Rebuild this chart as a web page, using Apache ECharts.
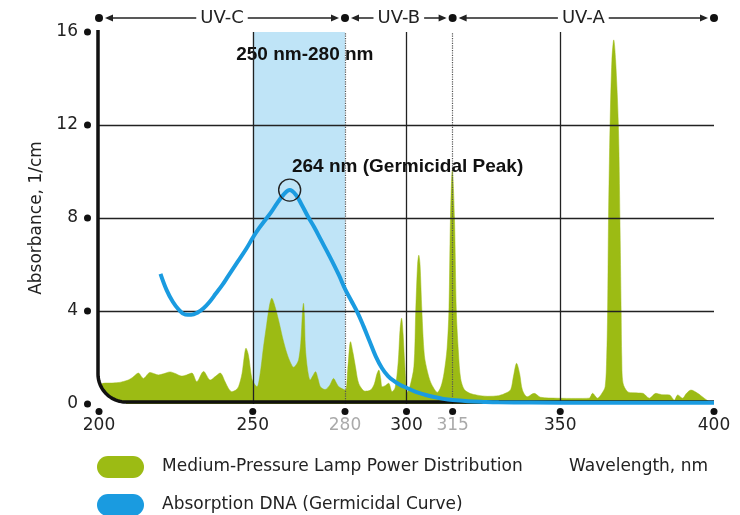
<!DOCTYPE html>
<html><head><meta charset="utf-8">
<script src="https://cdn.jsdelivr.net/npm/echarts@6/dist/echarts.min.js"></script>
<style>html,body{margin:0;padding:0;background:#fff}#c{width:740px;height:515px}</style>
</head><body><div id="c"></div>
<script>
// ---- data ----
const lampNm = [200.5,202,204,206.3,208,209.5,211,212.8,214.4,216.6,218,219.3,221,223.1,225,226.9,228.5,230.2,231.8,234,236.2,238,239.4,241,242.2,243.2,244.5,245.4,246.5,247.2,247.8,248.6,249.7,250.6,251.4,252.3,253.5,254.5,255.4,256.2,257,258.4,259.8,261.1,262.2,263.3,264.2,264.9,265.6,266.2,266.5,266.8,267.1,267.8,268.7,269.5,270.4,271.2,272,273.5,275,276.3,277.2,278,280.1,280.9,281.8,282.6,283.4,284.2,285,286.5,288.3,289.5,290.4,291,291.6,292.1,293.2,294.2,295.3,296.3,297.3,297.9,298.4,298.9,299.4,300.2,301,302.4,303.0,303.6,304,304.4,305.0,305.8,306.8,307.8,309,310,311.2,312.2,313.2,313.8,314.3,314.9,315.6,316.2,316.9,317.6,318.8,320.8,323,326.3,330,332.5,333.9,334.8,335.8,336.8,337.7,339.3,341.5,343.6,349,355,359.4,360.5,362.1,363.5,364.6,365.1,365.4,365.7,366.2,366.8,367.4,368.0,368.9,369.4,369.8,370.0,370.4,371.9,374,376.8,379,381.1,383,385.5,387.1,388.2,389.8,391,392.5,394.7,396.8,398.5,399.8];
const lampPower = [0.85,0.9,0.9,0.92,0.97,1.03,1.15,1.33,1.1,1.36,1.3,1.25,1.3,1.38,1.3,1.2,1.25,1.33,0.96,1.4,1.03,1.2,1.33,0.96,0.65,0.53,0.6,0.75,1.3,2.0,2.4,2.1,1.1,0.85,0.74,1.2,2.46,3.4,4.2,4.55,4.3,3.6,2.8,2.18,1.8,1.58,1.7,1.89,2.6,4.0,4.33,3.8,2.46,1.5,1.03,1.2,1.39,1.1,0.74,0.62,0.8,1.1,0.9,0.74,0.6,1.5,2.68,2.2,1.6,1.0,0.74,0.55,0.6,0.85,1.3,1.46,1.1,0.74,0.8,0.89,0.53,0.7,1.8,3.2,3.69,3.0,1.8,0.5,0.7,1.6,4.0,6.0,6.4,6.0,4.0,2.1,1.4,0.95,0.65,0.5,0.75,1.32,2.4,4.04,8.0,10.06,8.0,4.0,2.2,1.1,0.62,0.45,0.38,0.33,0.36,0.48,0.62,1.2,1.75,1.3,0.6,0.31,0.46,0.29,0.25,0.24,0.25,0.46,0.25,0.45,0.74,2.0,4.0,8.0,12.0,14.8,15.66,14.8,12.0,8.0,4.0,2.0,0.9,0.53,0.48,0.46,0.25,0.46,0.4,0.39,0.17,0.39,0.25,0.45,0.6,0.46,0.25,0.1,0.05];
const dnaNm = [220,222,224,226,228,230,232,234,236,238,240,242,245,248,250,252,254,256,258,260,262,264,266,268,270,272,275,278,280,282,284,286,288,290,292,294,296,298,300,303,306,309,312,315,320,325,330,340,360,380,400];
const dnaAbs = [5.6,4.9,4.4,4.05,3.85,3.84,3.93,4.12,4.4,4.75,5.1,5.5,6.1,6.7,7.15,7.55,7.9,8.25,8.65,9.0,9.2,9.0,8.55,8.05,7.6,7.1,6.35,5.55,4.95,4.45,3.95,3.35,2.7,2.05,1.55,1.2,0.98,0.82,0.7,0.52,0.4,0.3,0.22,0.17,0.12,0.09,0.07,0.06,0.05,0.05,0.05];
const xTickLabels = [200,250,280,300,315,350,400];
const greyTickLabels = [280,315];
const solidGuides = [250,300,350];
const dottedGuides = [280,315];
const yGuides = [4,8,12];
const bandNames = ['UV-C','UV-B','UV-A'];
const bandEdges = [200,280,315,400];
const germicidalRange = [250,280];
const germicidalRangeLabel = '250 nm-280 nm';
const germicidalPeak = [262, 9.2];
const germicidalPeakLabel = '264 nm (Germicidal Peak)';
const seriesNames = ['Medium-Pressure Lamp Power Distribution','Absorption DNA (Germicidal Curve)'];
const xAxisTitle = 'Wavelength, nm';
const yAxisTitle = 'Absorbance, 1/cm';

// ---- styles ----
const GREEN = '#9cbb14', BLUE = '#1a9be0', BAND = '#bfe4f7';
const REG = "'DejaVu Sans', sans-serif";
const BOLD = "'Liberation Sans', Arial, sans-serif";
const pill = 'path://M11,0 L36,0 A11,11 0 0 1 36,22 L11,22 A11,11 0 0 1 11,0 Z';

const lampData = lampNm.map((x, i) => [x, lampPower[i]]);
const dnaData = dnaNm.map((x, i) => [x, dnaAbs[i]]);

const guideLines = []
  .concat(solidGuides.map(v => ({xAxis: v, lineStyle: {type: 'solid', color: '#222', width: 1.3}})))
  .concat(dottedGuides.map(v => ({xAxis: v, lineStyle: {type: 'dotted', color: '#555', width: 1.2}})))
  .concat(yGuides.map(v => ({yAxis: v, lineStyle: {type: 'solid', color: '#222', width: 1.3}})));

const chart = echarts.init(document.getElementById('c'), null, {renderer: 'canvas'});
chart.setOption({
  animation: false,
  backgroundColor: '#fff',
  grid: {left: 99, right: 26, top: 32, bottom: 111},
  title: {text: xAxisTitle, right: 32, top: 458, padding: 0,
    textStyle: {fontFamily: REG, fontSize: 17, fontWeight: 'normal', color: '#222'}},
  legend: {
    orient: 'vertical', left: 97, top: 456, height: 80, padding: 0,
    itemWidth: 47, itemHeight: 22, itemGap: 16,
    selectedMode: false,
    textStyle: {fontFamily: REG, fontSize: 17, color: '#222', padding: [0, 0, 0, 13]},
    data: [
      {name: seriesNames[0], icon: pill, itemStyle: {color: GREEN, borderWidth: 0}},
      {name: seriesNames[1], icon: pill, itemStyle: {color: BLUE, borderWidth: 0}}
    ]
  },
  xAxis: {
    type: 'value', min: 200, max: 400, interval: 5,
    axisLine: {show: false}, axisTick: {show: false}, splitLine: {show: false},
    axisLabel: {
      margin: 4,
      formatter: v => xTickLabels.indexOf(v) < 0 ? '' :
        '{d|}\n{' + (greyTickLabels.indexOf(v) < 0 ? 'v' : 'g') + '|' + v + '}',
      rich: {
        d: {width: 7, height: 7, backgroundColor: '#111', borderRadius: 3.5},
        v: {fontFamily: REG, fontSize: 17, color: '#222', lineHeight: 20, padding: [2, 0, 0, 0]},
        g: {fontFamily: REG, fontSize: 17, color: '#aaa', lineHeight: 20, padding: [2, 0, 0, 0]}
      }
    }
  },
  yAxis: {
    type: 'value', min: 0, max: 16, interval: 4,
    name: yAxisTitle, nameLocation: 'middle', nameGap: 46,
    nameTextStyle: {fontFamily: REG, fontSize: 17, color: '#222'},
    axisLine: {show: false}, axisTick: {show: false}, splitLine: {show: false},
    axisLabel: {
      margin: 8,
      formatter: v => '{v|' + v + '}{s|}{d|}',
      rich: {
        v: {fontFamily: REG, fontSize: 17, color: '#222'},
        s: {width: 6},
        d: {width: 7, height: 7, backgroundColor: '#111', borderRadius: 3.5}
      }
    }
  },
  series: [
    {
      name: seriesNames[0], type: 'line', z: 2, data: lampData,
      smooth: 0.3, showSymbol: false, silent: true,
      itemStyle: {color: GREEN},
      lineStyle: {color: GREEN, width: 0.5},
      areaStyle: {color: GREEN, opacity: 1},
      markArea: {
        z: 1, silent: true,
        itemStyle: {color: BAND},
        label: {show: true, position: 'insideTop', distance: 13, offset: [6, 0],
          fontFamily: BOLD, fontWeight: 'bold', fontSize: 19, color: '#111'},
        data: [[{name: germicidalRangeLabel, xAxis: germicidalRange[0]}, {xAxis: germicidalRange[1]}]]
      },
      markLine: {
        z: 3, silent: true, symbol: 'none', label: {show: false},
        data: guideLines
      }
    },
    {
      name: seriesNames[1], type: 'line', z: 5, data: dnaData,
      smooth: 0.4, showSymbol: false, silent: true,
      itemStyle: {color: BLUE},
      lineStyle: {color: BLUE, width: 4},
      markPoint: {
        z: 6, silent: true,
        symbol: 'circle', symbolSize: 22,
        itemStyle: {color: 'rgba(0,0,0,0)', borderColor: '#222', borderWidth: 1.4},
        label: {show: true, position: [14, -12], align: 'left', verticalAlign: 'middle',
          formatter: '{b}', fontFamily: BOLD, fontWeight: 'bold', fontSize: 19, color: '#111'},
        data: [{name: germicidalPeakLabel, coord: germicidalPeak}]
      }
    }
  ]
});

// ---- axis frame and UV band header, placed through the chart's own scales ----
function px(x, y) { return chart.convertToPixel({gridIndex: 0}, [x, y]); }
const yMax = 16;
const g = [];
const o = px(bandEdges[0], 0), t = px(bandEdges[0], yMax), e = px(bandEdges[bandEdges.length - 1], 0);
const lx = o[0] - 1, by = o[1] - 2, r = 28;
const cx = lx + r, cy = by - r;
const arc = [];
for (let i = 0; i <= 20; i++) {
  const a = Math.PI - i * (Math.PI / 2) / 20;
  arc.push([cx + r * Math.cos(a), cy + r * Math.sin(a)]);
}
g.push({type: 'polygon', z: 3, silent: true,
  shape: {points: [[lx - 3, cy]].concat(arc).concat([[cx, by + 2], [lx - 3, by + 2]])},
  style: {fill: '#fff'}});
g.push({type: 'polyline', z: 4, silent: true,
  shape: {points: [[lx, t[1] - 2]].concat(arc).concat([[e[0], by]])},
  style: {stroke: '#111', lineWidth: 3.5, fill: null, lineJoin: 'round'}});

const yTop = t[1] - 14;
bandEdges.forEach(v => {
  g.push({type: 'circle', z: 4, silent: true, shape: {cx: px(v, yMax)[0], cy: yTop, r: 4}, style: {fill: '#111'}});
});
bandNames.forEach((name, i) => {
  const a = px(bandEdges[i], yMax)[0], b = px(bandEdges[i + 1], yMax)[0];
  g.push({type: 'line', z: 4, silent: true, shape: {x1: a + 8, y1: yTop, x2: b - 8, y2: yTop},
    style: {stroke: '#222', lineWidth: 1.5}});
  g.push({type: 'polygon', z: 4, silent: true,
    shape: {points: [[a + 6, yTop], [a + 14, yTop - 3.5], [a + 14, yTop + 3.5]]}, style: {fill: '#222'}});
  g.push({type: 'polygon', z: 4, silent: true,
    shape: {points: [[b - 6, yTop], [b - 14, yTop - 3.5], [b - 14, yTop + 3.5]]}, style: {fill: '#222'}});
  g.push({type: 'text', z: 5, silent: true, x: (a + b) / 2, y: yTop,
    style: {text: name, fill: '#222', fontFamily: 'DejaVu Sans', fontSize: 18,
      align: 'center', verticalAlign: 'middle', backgroundColor: '#fff', padding: [0, 4]}});
});
chart.setOption({graphic: g});
</script>
</body></html>
